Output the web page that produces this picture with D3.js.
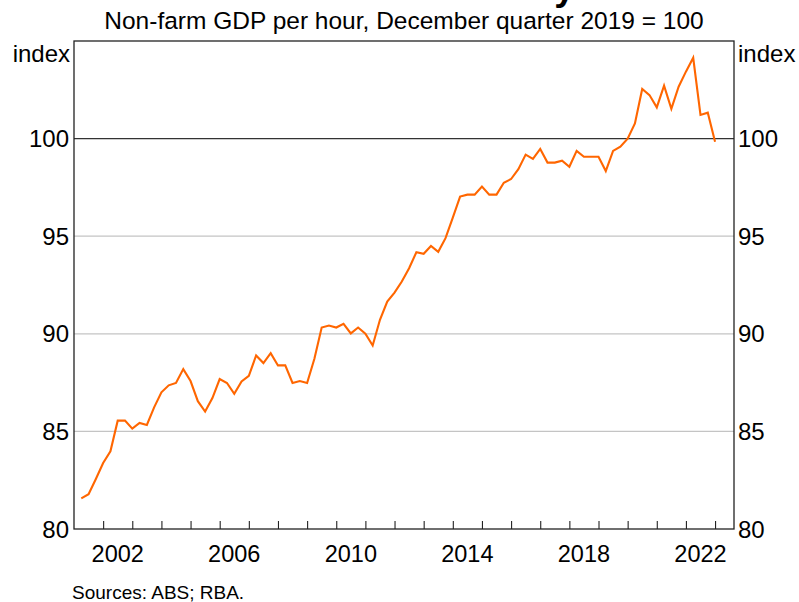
<!DOCTYPE html>
<html>
<head>
<meta charset="utf-8">
<script src="https://cdn.jsdelivr.net/npm/d3@7"></script>
<style>
  body { margin: 0; background: #fff; }
  svg { font-family: 'Liberation Sans', Arial, sans-serif; }
</style>
</head>
<body>
<div id="chart"></div>
<script>
// quarterly, March 2001 to December 2022
const startYear = 2001
const values = [
  81.57, 81.78, 82.56, 83.38, 83.98, 85.55, 85.55, 85.14, 85.43, 85.33,
  86.23, 87.0, 87.36, 87.48, 88.19, 87.58, 86.55, 86.02, 86.71, 87.68,
  87.48, 86.93, 87.56, 87.85, 88.89, 88.5, 89.01, 88.38, 88.38, 87.48,
  87.58, 87.48, 88.72, 90.32, 90.42, 90.32, 90.51, 90.02, 90.32, 90.0,
  89.4, 90.72, 91.65, 92.11, 92.68, 93.36, 94.18, 94.1, 94.5, 94.2,
  94.9, 95.95, 97.03, 97.13, 97.13, 97.54, 97.13, 97.13, 97.74, 97.93,
  98.43, 99.18, 98.96, 99.47, 98.77, 98.77, 98.87, 98.56, 99.37, 99.07,
  99.07, 99.07, 98.34, 99.37, 99.59, 100.0, 100.78, 102.54, 102.23, 101.6,
  102.71, 101.53, 102.66, 103.43, 104.14, 101.21, 101.33, 99.84
]
const yTicks = [80, 85, 90, 95, 100]
const yearTicks = d3.range(2002, 2024)
const yearLabels = [2002, 2006, 2010, 2014, 2018, 2022]

const width = 799
const height = 602
const margin = { top: 41, right: 65, bottom: 73, left: 74 }

// each quarter plotted at its end
const data = values.map((v, i) => ({ t: startYear + 0.25 * (i + 1), v }))

const svg = d3.select('#chart')
  .append('svg')
  .attr('width', width)
  .attr('height', height)

const x = d3.scaleLinear()
  .domain([2001, 2023.65])
  .range([margin.left, width - margin.right])

const y = d3.scaleLinear()
  .domain([80, 105])
  .range([height - margin.bottom, margin.top])

// gridlines
svg.append('g')
  .selectAll('line')
  .data(yTicks.filter(d => d !== 80 && d !== 100))
  .join('line')
  .attr('x1', x.range()[0])
  .attr('x2', x.range()[1])
  .attr('y1', d => y(d))
  .attr('y2', d => y(d))
  .attr('stroke', '#c4c4c4')
  .attr('stroke-width', 1.3)

svg.append('line')
  .attr('x1', x.range()[0])
  .attr('x2', x.range()[1])
  .attr('y1', y(100))
  .attr('y2', y(100))
  .attr('stroke', '#333')
  .attr('stroke-width', 1.3)

// series
const line = d3.line()
  .x(d => x(d.t))
  .y(d => y(d.v))

svg.append('path')
  .datum(data)
  .attr('fill', 'none')
  .attr('stroke', '#ff6600')
  .attr('stroke-width', 2.1)
  .attr('stroke-linejoin', 'miter')
  .attr('d', line)

// x axis ticks pointing up, labels centred in the year
const xAxis = g =>
  g
    .attr('transform', `translate(0,${y(80)})`)
    .call(d3.axisTop(x).tickValues(yearTicks).tickSize(8).tickFormat(''))
    .call(g => g.select('.domain').remove())
    .call(g => g.selectAll('line').attr('stroke', '#222').attr('stroke-width', 1.1))

svg.append('g').call(xAxis)

svg.append('g')
  .selectAll('text')
  .data(yearLabels)
  .join('text')
  .attr('x', d => x(d + 0.5))
  .attr('y', y(80) + 33)
  .attr('text-anchor', 'middle')
  .attr('font-size', 23.5)
  .attr('fill', '#000')
  .text(d => d)

// y labels both sides
const yLabels = svg.append('g').attr('font-size', 24).attr('fill', '#000')

yLabels.selectAll('.left')
  .data(yTicks)
  .join('text')
  .attr('class', 'left')
  .attr('x', x.range()[0] - 5)
  .attr('y', d => y(d))
  .attr('dy', '0.36em')
  .attr('text-anchor', 'end')
  .text(d => d)

yLabels.selectAll('.right')
  .data(yTicks)
  .join('text')
  .attr('class', 'right')
  .attr('x', x.range()[1] + 4)
  .attr('y', d => y(d))
  .attr('dy', '0.36em')
  .attr('text-anchor', 'start')
  .text(d => d)

yLabels.append('text')
  .attr('x', x.range()[0] - 4)
  .attr('y', 53)
  .attr('dy', '0.36em')
  .attr('text-anchor', 'end')
  .text('index')

yLabels.append('text')
  .attr('x', x.range()[1] + 4)
  .attr('y', 53)
  .attr('dy', '0.36em')
  .attr('text-anchor', 'start')
  .text('index')

// frame
svg.append('rect')
  .attr('x', x.range()[0])
  .attr('y', y(105))
  .attr('width', x.range()[1] - x.range()[0])
  .attr('height', y(80) - y(105))
  .attr('fill', 'none')
  .attr('stroke', '#222')
  .attr('stroke-width', 1.3)

// titles (main title sits above the frame, only its descender shows)
svg.append('text')
  .attr('x', 400)
  .attr('y', 0)
  .attr('text-anchor', 'middle')
  .attr('font-size', 37)
  .attr('font-weight', 'bold')
  .text('Labour Productivity')

svg.append('text')
  .attr('x', 404)
  .attr('y', 29)
  .attr('text-anchor', 'middle')
  .attr('font-size', 24.5)
  .text('Non-farm GDP per hour, December quarter 2019 = 100')

svg.append('text')
  .attr('x', 72)
  .attr('y', 599)
  .attr('font-size', 19)
  .text('Sources: ABS; RBA.')
</script>
</body>
</html>
